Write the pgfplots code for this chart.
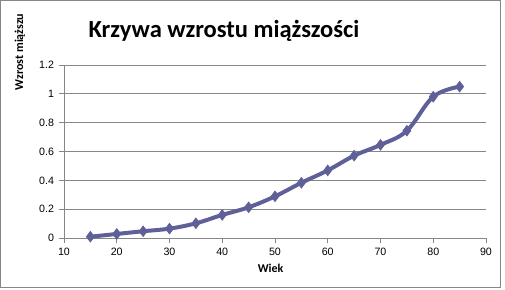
\documentclass[border=0pt]{standalone}
\usepackage{pgfplots}
\pgfplotsset{compat=1.18}
\usepackage{fontspec}
\setmainfont{Carlito}
\newfontfamily\tickfont{Liberation Sans}
\definecolor{ser}{RGB}{96,96,152}
\definecolor{grd}{RGB}{134,134,134}
\begin{document}
\begin{tikzpicture}
\useasboundingbox (0,0) rectangle (378.75pt,216.75pt);
\draw[grd,line width=0.9pt] (0.6pt,1.2pt) rectangle (375.3pt,216.1pt);
\node[font=\bfseries\fontsize{18.4}{21}\selectfont] at (168pt,193.5pt) {Krzywa wzrostu miąższości};
\node[font=\bfseries\fontsize{9}{10}\selectfont,rotate=90] at (15pt,177.75pt) {Wzrost miąższu};
\node[font=\bfseries\fontsize{9}{10}\selectfont] at (203pt,15.5pt) {Wiek};
\begin{axis}[
  at={(48pt,38.25pt)}, anchor=south west,
  scale only axis, width=316.5pt, height=129.75pt,
  xmin=10, xmax=90, ymin=0, ymax=1.2,
  xtick={10,20,...,90}, ytick={0,0.2,...,1.2},
  yticklabels={0,0.2,0.4,0.6,0.8,1,1.2},
  axis x line=bottom, axis y line=left,
  axis line style={grd,-, line width=0.75pt},
  tick align=outside, major tick length=4pt,
  tick style={grd, line width=0.75pt},
  ymajorgrids, grid style={grd, line width=0.75pt},
  tick label style={font=\tickfont\fontsize{8}{10}\selectfont},
  /pgf/number format/assume math mode=true,
  xtick pos=bottom, ytick pos=left,
  clip=false,
]
\addplot[ser, line width=3pt, smooth, tension=0.6, mark=diamond*, mark size=4pt, mark options={fill=ser, line width=0.5pt}]
coordinates {(15,0.009)(20,0.028)(25,0.047)(30,0.065)(35,0.102)(40,0.16)(45,0.213)(50,0.289)(55,0.383)(60,0.469)(65,0.571)(70,0.646)(75,0.744)(80,0.98)(85,1.05)};
\end{axis}
\end{tikzpicture}
\end{document}
